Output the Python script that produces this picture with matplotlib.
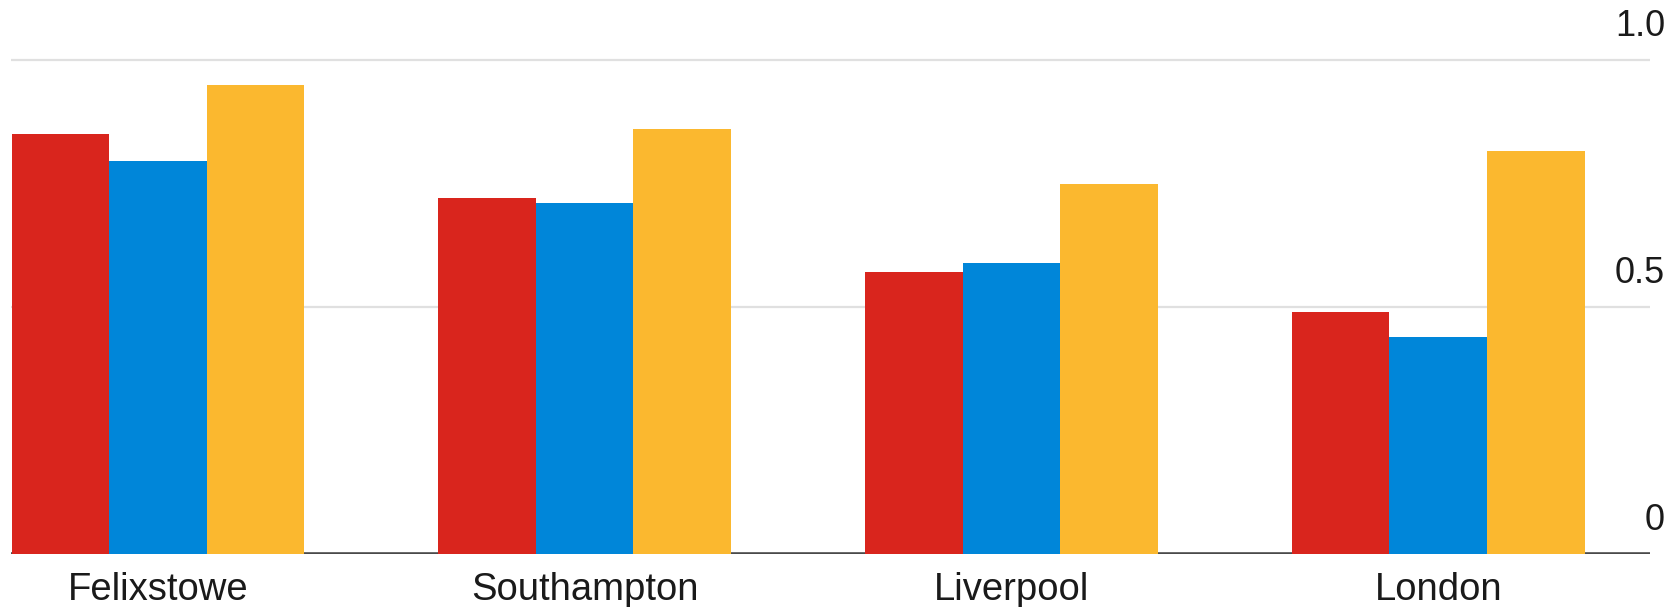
import matplotlib.pyplot as plt
import numpy as np

# Port groups and the three series per port
ports = ['Felixstowe', 'Southampton', 'Liverpool', 'London']
series_red = [0.85, 0.72, 0.57, 0.49]
series_blue = [0.795, 0.71, 0.59, 0.44]
series_yellow = [0.95, 0.86, 0.75, 0.815]
y_ticks = [0, 0.5, 1.0]
y_tick_labels = ['0', '0.5', '1.0']

colors = ['#d9251d', '#0086d9', '#fbb82f']

plt.rcParams['font.family'] = ['Liberation Sans', 'DejaVu Sans']

fig = plt.figure(figsize=(16.8, 6.07), dpi=100)
ax = fig.add_axes([0.0064, 0.0873, 0.9757, 0.8952])

x = np.arange(len(ports))
w = 0.2285
for i, (vals, c) in enumerate(zip([series_red, series_blue, series_yellow], colors)):
    ax.bar(x + (i - 1) * w, vals, width=w, color=c, zorder=3, linewidth=0)

ax.set_xlim(-0.345, 3.496)
ax.set_ylim(0, 1.1)

# gridlines + baseline
for t in y_ticks[1:]:
    ax.axhline(t, color='#e0e0e0', linewidth=1.6, zorder=1)
ax.axhline(0, color='#4a4a4a', linewidth=2.6, zorder=2)

# value labels sit above their gridline at the right edge
for t, lab in zip(y_ticks, y_tick_labels):
    ax.annotate(lab, xy=(1.0, t), xycoords=ax.get_yaxis_transform(),
                xytext=(15, 24), textcoords='offset pixels',
                ha='right', va='baseline', fontsize=26, color='#1a1a1a',
                annotation_clip=False)

ax.set_yticks([])
ax.set_xticks(x)
ax.set_xticklabels(ports, fontsize=27.5, color='#1a1a1a')
ax.tick_params(axis='x', length=0, pad=13)

for spine in ax.spines.values():
    spine.set_visible(False)

fig.savefig('out.png', dpi=100, facecolor='white')
